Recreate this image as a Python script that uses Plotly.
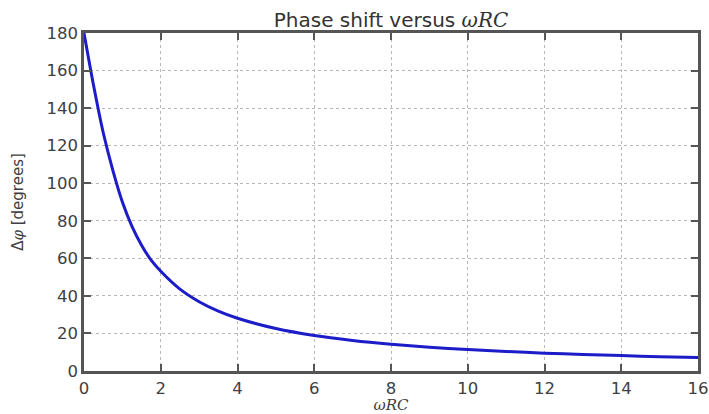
import plotly.graph_objects as go

omega_rc = [0, 0.25, 0.5, 0.75, 1, 1.25, 1.5, 1.75, 2, 2.5, 3, 3.5, 4, 5, 6, 7, 8, 9, 10, 11, 12, 13, 14, 15, 16]
phase_deg = [180, 152, 127, 107, 90, 77, 67, 59, 53.1, 43.6, 36.9, 31.9, 28.1, 22.6, 18.9, 16.3, 14.3, 12.7, 11.4, 10.4, 9.5, 8.8, 8.2, 7.6, 7.2]
x_ticks = [0, 2, 4, 6, 8, 10, 12, 14, 16]
y_ticks = [0, 20, 40, 60, 80, 100, 120, 140, 160, 180]

fig = go.Figure()
fig.add_trace(go.Scatter(
    x=omega_rc, y=phase_deg, mode="lines",
    line=dict(color="#1c1cc8", width=3, shape="spline", smoothing=0.8),
    showlegend=False,
))

axis_common = dict(
    showline=True, linecolor="#555555", linewidth=2.5, mirror="ticks",
    ticks="inside", ticklen=7, tickcolor="#555555", tickwidth=1.5,
    showgrid=True, gridcolor="#b8b8b8", griddash="dot", gridwidth=1,
    zeroline=False, automargin=False,
    tickfont=dict(family="DejaVu Sans", size=16.5, color="#404040"),
)

fig.update_layout(
    width=709, height=414,
    margin=dict(l=84, r=11, t=33, b=43),
    paper_bgcolor="white", plot_bgcolor="white",
    title=dict(
        text="Phase shift versus <i><span style='font-family:DejaVu Serif'>ωRC</span></i>",
        x=0.5, xref="paper", xanchor="center",
        y=0.952, yref="container", yanchor="middle",
        font=dict(family="DejaVu Sans", size=20, color="#333333"),
    ),
    xaxis=dict(
        range=[0, 16], tickvals=x_ticks, ticktext=[str(v) for v in x_ticks],
        title=dict(text="<i>ωRC</i>", standoff=7,
                   font=dict(family="DejaVu Serif", size=15, color="#404040")),
        **axis_common,
    ),
    yaxis=dict(
        range=[0, 180], tickvals=y_ticks, ticktext=[str(v) for v in y_ticks],
        title=dict(text="Δ<i><span style='font-family:DejaVu Serif'>φ</span></i> [degrees]", standoff=20,
                   font=dict(family="DejaVu Sans", size=15, color="#404040")),
        **axis_common,
    ),
)

fig.write_html(
    "out.html",
    config={"displayModeBar": False},
    post_script="document.body.style.margin='0';document.body.style.overflow='hidden';",
)
